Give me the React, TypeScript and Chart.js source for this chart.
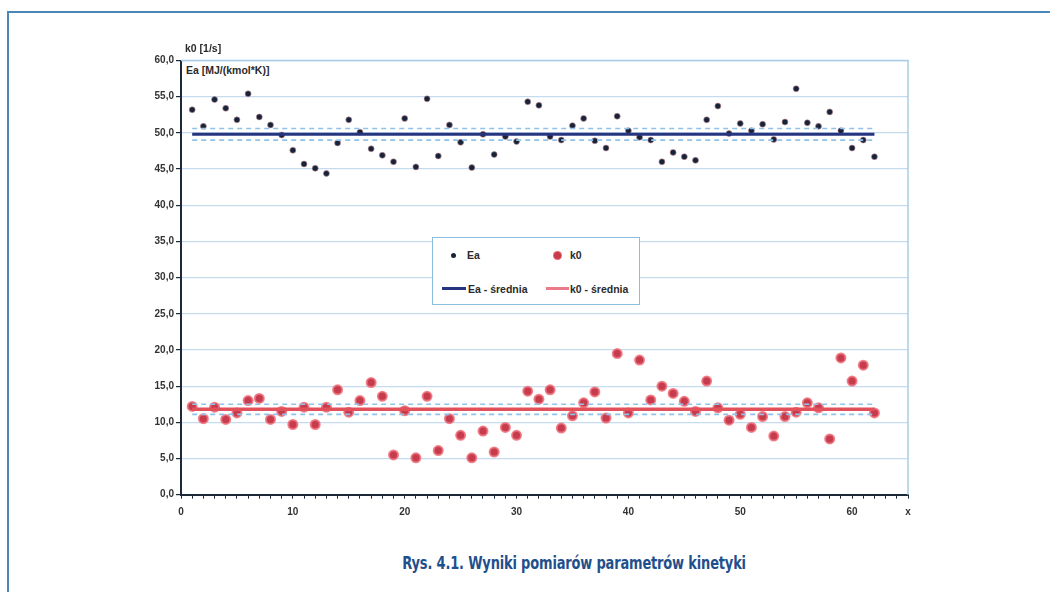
import React, { useEffect, useRef } from "react";
import { Chart, registerables } from "chart.js";

Chart.register(...registerables);

// ---- data ----
const eaValues = [
  53.2, 50.9, 54.6, 53.4, 51.8, 55.4, 52.2, 51.1, 49.7, 47.6, 45.7, 45.1, 44.4, 48.6, 51.8, 50.1,
  47.8, 46.9, 46.0, 52.0, 45.3, 54.7, 46.8, 51.1, 48.7, 45.2, 49.8, 47.0, 49.5, 48.8, 54.3, 53.8,
  49.5, 49.0, 51.0, 52.0, 48.9, 47.9, 52.3, 50.3, 49.4, 49.0, 46.0, 47.3, 46.7, 46.2, 51.8, 53.7,
  49.9, 51.3, 50.3, 51.2, 49.1, 51.5, 56.1, 51.4, 50.9, 52.9, 50.3, 47.9, 49.0, 46.7,
];
const k0Values = [
  12.2, 10.5, 12.1, 10.4, 11.3, 13.0, 13.3, 10.4, 11.5, 9.7, 12.1, 9.7, 12.1, 14.5, 11.4, 13.0,
  15.5, 13.6, 5.5, 11.6, 5.1, 13.6, 6.1, 10.5, 8.2, 5.1, 8.8, 5.9, 9.3, 8.2, 14.3, 13.2,
  14.5, 9.2, 10.9, 12.7, 14.2, 10.6, 19.5, 11.3, 18.6, 13.1, 15.0, 14.0, 12.9, 11.5, 15.7, 12.0,
  10.3, 11.1, 9.3, 10.8, 8.1, 10.8, 11.4, 12.7, 12.0, 7.7, 18.9, 15.7, 17.9, 11.3,
];
const eaMean = 49.8;
const eaBand = [49.0, 50.6];
const k0Mean = 11.8;
const k0Band = [11.1, 12.5];
const xMax = 65;
const xLabelTicks = [0, 10, 20, 30, 40, 50, 60];
const legendLabels = ["Ea", "k0", "Ea - średnia", "k0 - średnia"];
const yTitle1 = "k0 [1/s]";
const yTitle2 = "Ea [MJ/(kmol*K)]";
const caption = "Rys. 4.1. Wyniki pomiarów parametrów kinetyki";

const NAVY = "#27347f";
const RED = "#e2505c";
const DASH = "#8fc3ea";
const GRID = "#c4dcee";
const AXIS = "#1b2a36";
const FONT = "'Liberation Sans', Arial, sans-serif";

const pts = (vals: number[]) => vals.map((y, i) => ({ x: i + 1, y }));
const hline = (y: number, n: number) => [
  { x: 1, y },
  { x: n, y },
];

const framePlugin = {
  id: "frame",
  afterDraw(chart: any) {
    const { ctx, chartArea } = chart;
    ctx.save();
    ctx.strokeStyle = "#a9cbe6";
    ctx.lineWidth = 1.5;
    ctx.beginPath();
    ctx.moveTo(chartArea.left, chartArea.top);
    ctx.lineTo(chartArea.right, chartArea.top);
    ctx.lineTo(chartArea.right, chartArea.bottom);
    ctx.stroke();
    ctx.restore();
  },
};

export default function App() {
  const ref = useRef<HTMLCanvasElement>(null);
  useEffect(() => {
    if (!ref.current) return;
    const n = eaValues.length;
    const lineDs = (y: number, color: string, width: number, dash: number[] = []) => ({
      type: "line" as const,
      data: hline(y, n),
      borderColor: color,
      borderWidth: width,
      borderDash: dash,
      pointRadius: 0,
      showLine: true,
      fill: false,
    });
    const chart = new Chart(ref.current, {
      type: "scatter",
      data: {
        datasets: [
          lineDs(eaBand[0], DASH, 1.6, [5, 4]),
          lineDs(eaBand[1], DASH, 1.6, [5, 4]),
          lineDs(k0Band[0], DASH, 1.6, [5, 4]),
          lineDs(k0Band[1], DASH, 1.6, [5, 4]),
          lineDs(eaMean, NAVY, 3),
          lineDs(k0Mean, RED, 3.5),
          {
            data: pts(k0Values),
            backgroundColor: "#c63c4e",
            borderColor: "rgba(238,110,120,0.85)",
            borderWidth: 2,
            pointRadius: 4.5,
          },
          {
            data: pts(eaValues),
            backgroundColor: "#16243a",
            borderColor: "rgba(200,140,150,0.6)",
            borderWidth: 1,
            pointRadius: 3,
          },
        ] as any,
      },
      options: {
        animation: false,
        responsive: false,
        layout: { padding: { top: 20.5, bottom: 5.3, left: 0, right: 13 } },
        plugins: { legend: { display: false }, tooltip: { enabled: false } },
        scales: {
          x: {
            type: "linear",
            min: 0,
            max: xMax,
            afterFit: (s: any) => {
              s.height = 30;
            },
            border: { color: AXIS, width: 2 },
            grid: { drawOnChartArea: false, drawTicks: true, tickLength: 4, tickColor: AXIS, lineWidth: 1 },
            ticks: {
              stepSize: 1,
              autoSkip: false,
              maxRotation: 0,
              padding: 8,
              color: "#333",
              font: { family: FONT, size: 10, weight: "bold" },
              callback: (v: any) =>
                xLabelTicks.includes(v) ? String(v) : v === xMax ? "x" : "",
            },
          },
          y: {
            min: 0,
            max: 60,
            afterFit: (s: any) => {
              s.width = 50;
            },
            border: { color: AXIS, width: 2 },
            grid: { color: GRID, lineWidth: 1.2, tickLength: 5, tickColor: AXIS },
            ticks: {
              stepSize: 5,
              padding: 2,
              color: "#333",
              font: { family: FONT, size: 10, weight: "bold" },
              callback: (v: any) => Number(v).toFixed(1).replace(".", ","),
            },
          },
        },
      },
      plugins: [framePlugin],
    } as any);
    return () => chart.destroy();
  }, []);

  const small: React.CSSProperties = {
    position: "absolute",
    fontFamily: FONT,
    fontSize: 10.5,
    fontWeight: "bold",
    color: "#2a2a2a",
    whiteSpace: "nowrap",
    lineHeight: "12px",
  };

  return (
    <div style={{ position: "absolute", left: 0, top: 0, width: 1050, height: 592, overflow: "hidden", background: "#fff" }}>
      <div
        style={{
          position: "absolute",
          left: 7,
          top: 11,
          width: 1100,
          height: 700,
          borderLeft: "2px solid #4a86b6",
          borderTop: "2px solid #4a86b6",
          boxSizing: "border-box",
        }}
      />
      <canvas
        ref={ref}
        width={790}
        height={490}
        style={{ position: "absolute", left: 131, top: 40, width: 790, height: 490 }}
      />
      <div style={{ ...small, left: 185, top: 42 }}>{yTitle1}</div>
      <div style={{ ...small, left: 184, top: 64, background: "#fff", padding: "0 2px" }}>{yTitle2}</div>
      {/* legend */}
      <div
        style={{
          position: "absolute",
          left: 432,
          top: 237,
          width: 208,
          height: 68,
          border: "1px solid #8fbfe0",
          background: "#fff",
          boxSizing: "border-box",
        }}
      >
        <div style={{ position: "absolute", left: 18, top: 15, width: 5, height: 5, borderRadius: 3, background: "#16243a" }} />
        <div style={{ ...small, left: 34, top: 11 }}>{legendLabels[0]}</div>
        <div
          style={{
            position: "absolute",
            left: 120,
            top: 13,
            width: 7,
            height: 7,
            borderRadius: 5,
            background: "#c63c4e",
            border: "1.5px solid rgba(238,110,120,0.85)",
          }}
        />
        <div style={{ ...small, left: 137, top: 11 }}>{legendLabels[1]}</div>
        <div style={{ position: "absolute", left: 9, top: 49, width: 24, height: 3, background: NAVY }} />
        <div style={{ ...small, left: 35, top: 45 }}>{legendLabels[2]}</div>
        <div style={{ position: "absolute", left: 113, top: 49, width: 23, height: 3, background: "#ec7b8a" }} />
        <div style={{ ...small, left: 137, top: 45 }}>{legendLabels[3]}</div>
      </div>
      <div
        style={{
          position: "absolute",
          left: 0,
          width: 1148,
          top: 553,
          textAlign: "center",
        }}
      >
        <span
          style={{
            display: "inline-block",
            transform: "scaleX(0.85)",
            transformOrigin: "center",
            fontFamily: "'DejaVu Sans Condensed', 'Liberation Sans Narrow', Roboto, sans-serif",
            fontWeight: "bold",
            fontSize: 17,
            color: "#1f4f8c",
            letterSpacing: "-0.2px",
            whiteSpace: "nowrap",
          }}
        >
          {caption}
        </span>
      </div>
    </div>
  );
}
